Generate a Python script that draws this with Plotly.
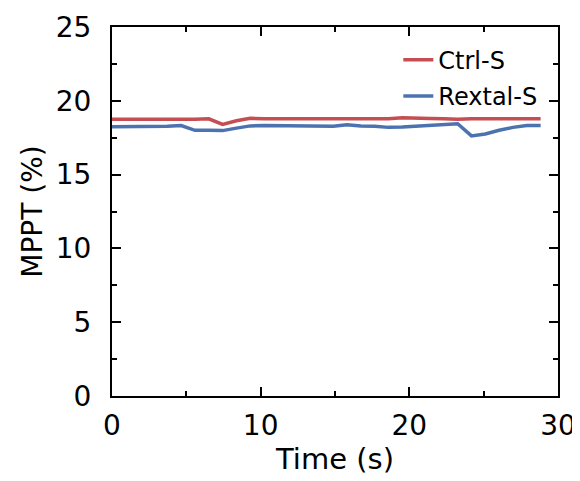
import plotly.graph_objects as go

time_s = [0.0, 0.93, 1.86, 2.79, 3.72, 4.65, 5.58, 6.51, 7.44, 8.37, 9.3, 10.23,
          11.16, 12.09, 13.02, 13.95, 14.88, 15.81, 16.74, 17.67, 18.6, 19.53,
          20.46, 21.39, 22.32, 23.25, 24.18, 25.11, 26.04, 26.97, 27.9, 28.83]

ctrl_s = [18.75, 18.75, 18.72, 18.70, 18.72, 18.75, 18.75, 18.78, 18.40, 18.65,
          18.82, 18.78, 18.78, 18.80, 18.80, 18.78, 18.80, 18.78, 18.78, 18.80,
          18.78, 18.85, 18.80, 18.80, 18.78, 18.75, 18.78, 18.78, 18.78, 18.78,
          18.75, 18.78]

rextal_s = [18.25, 18.25, 18.27, 18.28, 18.28, 18.32, 18.00, 18.00, 17.98, 18.15,
            18.30, 18.33, 18.32, 18.32, 18.30, 18.30, 18.28, 18.38, 18.30, 18.28,
            18.20, 18.22, 18.28, 18.32, 18.35, 18.45, 17.62, 17.75, 18.00, 18.20,
            18.32, 18.32]

x_ticks = [0, 10, 20, 30]
y_ticks = [0, 5, 10, 15, 20, 25]

font_family = "DejaVu Sans, sans-serif"

fig = go.Figure()
fig.add_trace(go.Scatter(x=time_s, y=ctrl_s, mode="lines", name="Ctrl-S", legendgroup="a",
                         line=dict(color="#c44e52", width=3.5)))
fig.add_trace(go.Scatter(x=time_s, y=rextal_s, mode="lines", name="Rextal-S", legendgroup="b",
                         line=dict(color="#4c72b0", width=3.5)))

axis_common = dict(
    showline=True, linecolor="black", linewidth=2, mirror="ticks",
    ticks="inside", ticklen=9, tickwidth=1.5, tickcolor="black",
    showgrid=False, zeroline=False, automargin=False,
    tickfont=dict(family=font_family, size=28, color="black"),
)

fig.update_xaxes(
    range=[0, 30], tickvals=x_ticks, ticktext=[str(v) for v in x_ticks],
    minor=dict(ticks="inside", ticklen=5, dtick=5, tick0=0, tickcolor="black", tickwidth=1.5),
    title=dict(text="Time (s)", font=dict(family=font_family, size=29, color="black"), standoff=8),
    ticklabelstandoff=3,
    **axis_common,
)
fig.update_yaxes(
    range=[0, 25], tickvals=y_ticks, ticktext=[str(v) for v in y_ticks],
    minor=dict(ticks="inside", ticklen=5, dtick=2.5, tick0=0, tickcolor="black", tickwidth=1.5),
    title=dict(text="MPPT (%)", font=dict(family=font_family, size=28, color="black"), standoff=5),
    ticklabelstandoff=13,
    **axis_common,
)

fig.update_layout(
    width=580, height=481,
    margin=dict(l=104, r=30, t=19, b=93),
    paper_bgcolor="white", plot_bgcolor="white",
    font=dict(family=font_family, color="black"),
    showlegend=True,
    legend=dict(x=0.642, y=0.971, xanchor="left", yanchor="top",
                font=dict(family=font_family, size=24, color="black"),
                bgcolor="rgba(0,0,0,0)", tracegroupgap=2),
)

fig.write_html("out.html")
